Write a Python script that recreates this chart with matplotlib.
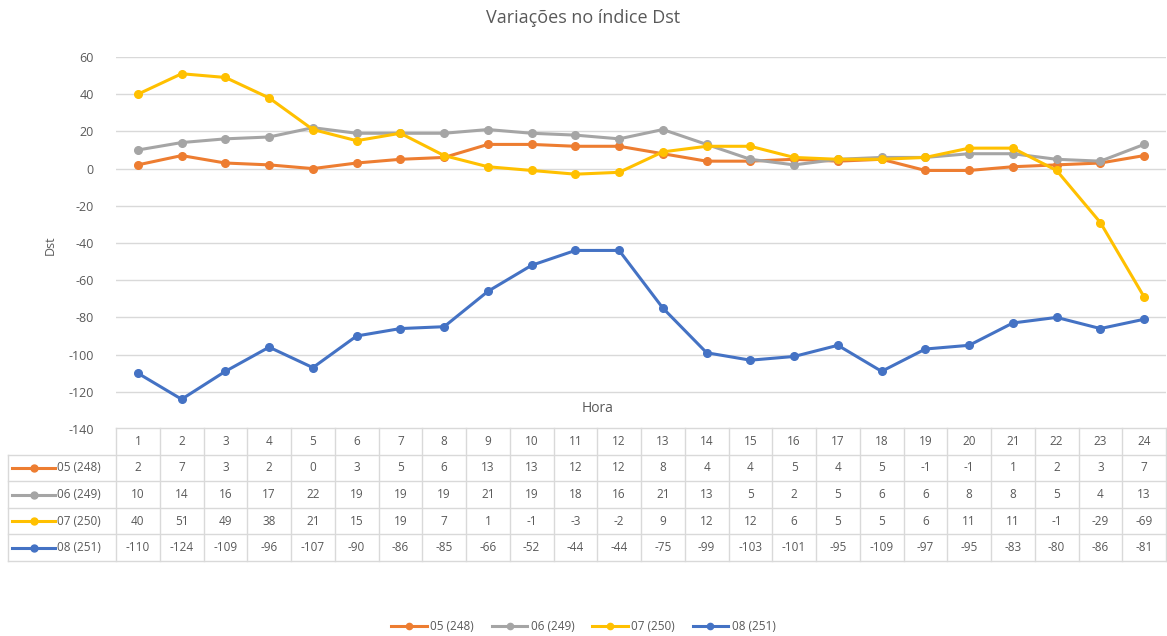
import matplotlib
matplotlib.use('Agg')
import matplotlib.pyplot as plt
from matplotlib.lines import Line2D

TXT = '#595959'
GRID = '#D9D9D9'
plt.rcParams.update({'font.family': ['Open Sans', 'DejaVu Sans'], 'font.size': 9,
                     'axes.unicode_minus': False})

horas = list(range(1, 25))
labels = ['05 (248)', '06 (249)', '07 (250)', '08 (251)']
colors = ['#ED7D31', '#A5A5A5', '#FFC000', '#4472C4']
d05 = [2, 7, 3, 2, 0, 3, 5, 6, 13, 13, 12, 12, 8, 4, 4, 5, 4, 5, -1, -1, 1, 2, 3, 7]
d06 = [10, 14, 16, 17, 22, 19, 19, 19, 21, 19, 18, 16, 21, 13, 5, 2, 5, 6, 6, 8, 8, 5, 4, 13]
d07 = [40, 51, 49, 38, 21, 15, 19, 7, 1, -1, -3, -2, 9, 12, 12, 6, 5, 5, 6, 11, 11, -1, -29, -69]
d08 = [-110, -124, -109, -96, -107, -90, -86, -85, -66, -52, -44, -44, -75, -99, -103, -101,
       -95, -109, -97, -95, -83, -80, -86, -81]
series = [d05, d06, d07, d08]

W, H = 1167, 636
fig = plt.figure(figsize=(W / 100, H / 100), dpi=100)
L, R = 116, 1166
ax = fig.add_axes([L / W, 1 - 429 / H, (R - L) / W, (429 - 57) / H])
for vals, c, lab in zip(series, colors, labels):
    ax.plot(horas, vals, color=c, lw=2.2, marker='o', ms=5.5, label=lab, zorder=3)
ax.set_xlim(0.5, 24.5)
ax.set_ylim(-140, 60)
ax.set_yticks(range(-140, 61, 20))
ax.yaxis.grid(True, color=GRID, lw=1)
ax.set_axisbelow(True)
ax.set_xticks([])
for s in ax.spines.values():
    s.set_visible(False)
ax.tick_params(axis='y', length=0, pad=16, colors=TXT, labelsize=9)
ax.text(0.459, 0.054, 'Hora', transform=ax.transAxes, ha='center', va='center',
        fontsize=10, color=TXT)
fig.text(50 / W, 1 - 245 / H, 'Dst', rotation=90, ha='center', va='center', fontsize=9, color=TXT)
fig.text(0.5, 1 - 18 / H, 'Variações no índice Dst', ha='center', va='center', fontsize=13, color=TXT)

# data table
T_TOP, T_BOT = 428, 561
axt = fig.add_axes([L / W, 1 - T_BOT / H, (R - L) / W, (T_BOT - T_TOP) / H])
axt.set_xlim(0.5, 24.5)
axt.set_ylim(5, 0)
axt.axis('off')
px = (R - L) / 24.0
xl = 0.5 - (L - 8) / px
for i in range(25):
    axt.plot([i + 0.5, i + 0.5], [0, 5], color=GRID, lw=1, clip_on=False)
axt.plot([xl, xl], [1, 5], color=GRID, lw=1, clip_on=False)
axt.plot([0.5, 24.5], [0, 0], color=GRID, lw=1, clip_on=False)
for r in range(1, 6):
    axt.plot([xl, 24.5], [r, r], color=GRID, lw=1, clip_on=False)
for h in horas:
    axt.text(h, 0.5, str(h), ha='center', va='center', fontsize=8.5, color=TXT)
for r, (vals, c, lab) in enumerate(zip(series, colors, labels), start=1):
    x0 = 0.5 - (L - 12) / px
    x1 = 0.5 - (L - 55) / px
    axt.plot([x0, x1], [r + 0.5, r + 0.5], color=c, lw=2.2, clip_on=False)
    axt.plot([(x0 + x1) / 2], [r + 0.5], marker='o', ms=5, color=c, clip_on=False)
    axt.text(x1 + 0.05, r + 0.5, lab, ha='left', va='center', fontsize=8.5, color=TXT)
    for h, v in zip(horas, vals):
        axt.text(h, r + 0.5, str(v), ha='center', va='center', fontsize=8.5, color=TXT)

handles = [Line2D([], [], color=c, lw=2.2, marker='o', ms=4.5) for c in colors]
fig.legend(handles, labels, loc='center', bbox_to_anchor=(0.5, 1 - 627 / H), ncol=4,
           frameon=False, fontsize=8.5, labelcolor=TXT, handlelength=3, columnspacing=1.5,
           handletextpad=0.3)

fig.savefig('out.png', dpi=100)
